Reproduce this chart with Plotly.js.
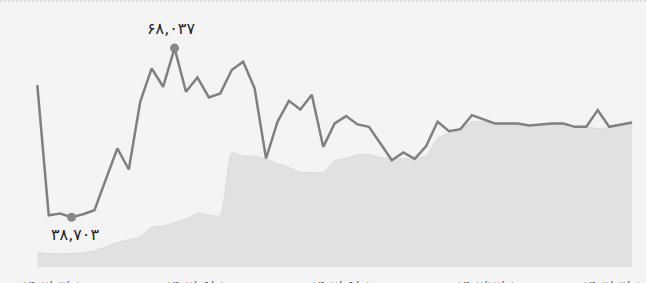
<!DOCTYPE html>
<html>
<head>
<meta charset="utf-8">
<script src="https://cdn.plot.ly/plotly-3.0.1.min.js"></script>
<style>
html,body{margin:0;padding:0;background:#f4f4f4;overflow:hidden;}
#chart{width:646px;height:283px;box-sizing:border-box;border-top:2px dotted #dcdcdc;}
</style>
</head>
<body>
<div id="chart"></div>
<script>
// weekly index 0..52
const weeks = Array.from({length:53},(_,i)=>i);
const priceLine = [61618,39050,39345,38703,39224,39918,45300,50629,46984,58719,
  64517,61323,68037,60455,62955,59483,60177,64222,65663,61045,
  48893,55247,58893,57400,59934,50907,54969,56237,54796,54379,
  51497,48598,49935,48824,51029,55247,53633,53980,56410,55716,
  54969,54969,54969,54622,54796,54969,54969,54379,54379,57278,
  54379,54796,55143];
const areaSeries = [32540,32401,32332,32401,32540,32887,33582,34363,34797,35318,
  36967,37193,37748,38356,39449,39050,38998,49865,49345,49240,
  48772,48025,47331,46515,46463,46515,48511,48893,49553,49588,
  49032,48893,48859,48893,49345,52365,53233,53806,55282,55247,
  54935,54935,54935,54587,54674,54848,54848,54379,54327,54101,
  54205,54674,55073];
const tickPositions = [1.3,13.9,26.6,39.3,50.3];
const tickLabels = ["۱۴۰۲/۰۳/۰۱","۱۴۰۲/۰۶/۰۱","۱۴۰۲/۰۹/۰۱","۱۴۰۲/۱۲/۰۱","۱۴۰۳/۰۳/۰۱"];

function fa(n){
  const d='۰۱۲۳۴۵۶۷۸۹';
  return n.toString().replace(/\B(?=(\d{3})+(?!\d))/g, ',').replace(/\d/g, c=>d[+c]);
}
const maxV = Math.max(...priceLine), minV = Math.min(...priceLine);
const iMax = priceLine.indexOf(maxV), iMin = priceLine.indexOf(minV);

const traces = [
  {x:weeks, y:areaSeries, type:'scatter', mode:'lines', fill:'tozeroy',
   fillcolor:'#e1e1e1', line:{color:'#dadada', width:1, shape:'spline', smoothing:0.5},
   hoverinfo:'skip'},
  {x:weeks, y:priceLine, type:'scatter', mode:'lines',
   line:{color:'#808080', width:2.5}, hoverinfo:'skip'},
  {x:[iMax,iMin], y:[maxV,minV], type:'scatter', mode:'markers',
   marker:{color:'#888888', size:9}, hoverinfo:'skip'}
];
const layout = {
  width:646, height:281,
  margin:{l:0, r:0, t:18, b:16},
  paper_bgcolor:'#f4f4f4', plot_bgcolor:'#f4f4f4',
  showlegend:false,
  font:{family:'DejaVu Sans, sans-serif', color:'#333'},
  xaxis:{range:[-3.261,53.22], showgrid:false, zeroline:false, showline:false,
    tickmode:'array', tickvals:tickPositions, ticktext:tickLabels,
    ticks:'', tickfont:{size:12, color:'#555'}, ticklabelstandoff:10, fixedrange:true},
  yaxis:{range:[30075,72902], showgrid:false, zeroline:false, showline:false,
    showticklabels:false, ticks:'', fixedrange:true},
  annotations:[
    {x:iMax, y:maxV, text:fa(maxV), showarrow:false, yshift:20, xshift:-4,
     font:{size:16, color:'#222', family:'DejaVu Sans, sans-serif'}},
    {x:iMin, y:minV, text:fa(minV), showarrow:false, yshift:-17, xshift:3,
     font:{size:16, color:'#222', family:'DejaVu Sans, sans-serif'}}
  ]
};
Plotly.newPlot('chart', traces, layout, {displayModeBar:false, staticPlot:true});
</script>
</body>
</html>
